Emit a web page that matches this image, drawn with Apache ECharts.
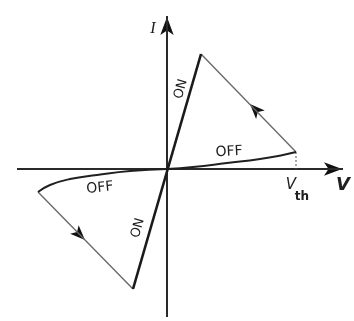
<!DOCTYPE html>
<html>
<head>
<meta charset="utf-8">
<script src="https://cdn.jsdelivr.net/npm/echarts@6/dist/echarts.min.js"></script>
<style>
  html, body { margin: 0; padding: 0; background: #ffffff; }
  #chart { width: 354px; height: 321px; }
</style>
</head>
<body>
<div id="chart"></div>
<script>
// Current-voltage switching characteristic (V and I measured from the origin)
const vAxisLine = [[-150, 0], [176, 0]];
const iAxisLine = [[0, -148], [0, 153]];
const axisTips = [[175, 0], [0, 152]];
const onBranch = [[-34, -120], [34, 115]];
const offUpper = [[0, 0], [26, 2], [60, 6], [93, 10], [116, 14], [129, 17]];
const offLower = [[0, 0], [-37, -2], [-70, -6], [-97, -10], [-117, -16], [-129, -23]];
const returnUpper = [[129, 17], [34, 115]];
const returnLower = [[-129, -23], [-34, -120]];
const vth = 129;
const thresholdDrop = [[vth, 17], [vth, 0]];
const directionMarks = [[83, 65], [-82, -71]];

const ink = '#202020';

const chart = echarts.init(document.getElementById('chart'), null, { renderer: 'canvas' });

function txt(text, x, y, font, rotation) {
  return {
    type: 'text', x: x, y: y, rotation: rotation || 0, silent: true,
    style: {
      text: text, font: font, fill: ink,
      align: 'center', verticalAlign: 'middle',
      textAlign: 'center', textVerticalAlign: 'middle'
    }
  };
}

chart.setOption({
  animation: false,
  backgroundColor: '#ffffff',
  grid: { left: 0, right: 0, top: 0, bottom: 0 },
  xAxis: { type: 'value', min: -167, max: 187, show: false },
  yAxis: { type: 'value', min: -152, max: 169, show: false },
  series: [
    { type: 'line', data: vAxisLine, symbol: 'none', lineStyle: { color: '#2a2a2a', width: 2 } },
    { type: 'line', data: iAxisLine, symbol: 'none', lineStyle: { color: '#2a2a2a', width: 2 } },
    {
      type: 'scatter', symbol: 'arrow', symbolSize: [10, 18],
      itemStyle: { color: '#111111', opacity: 1 },
      data: [
        { value: axisTips[0], symbolRotate: -90 },
        { value: axisTips[1], symbolRotate: 0 }
      ]
    },
    { type: 'line', data: returnUpper, symbol: 'none', lineStyle: { color: '#666666', width: 1.3 } },
    { type: 'line', data: returnLower, symbol: 'none', lineStyle: { color: '#666666', width: 1.3 } },
    { type: 'line', data: thresholdDrop, symbol: 'none', lineStyle: { color: '#555555', width: 1, type: [2, 2] } },
    { type: 'line', data: offUpper, smooth: true, symbol: 'none', lineStyle: { color: ink, width: 2 } },
    { type: 'line', data: offLower, smooth: true, symbol: 'none', lineStyle: { color: ink, width: 2 } },
    { type: 'line', data: onBranch, symbol: 'none', lineStyle: { color: '#1a1a1a', width: 2.6 } },
    {
      type: 'scatter', symbol: 'arrow', symbolSize: [9, 15],
      itemStyle: { color: '#111111', opacity: 1 },
      data: [
        { value: directionMarks[0], symbolRotate: 44 },
        { value: directionMarks[1], symbolRotate: 225 }
      ]
    }
  ],
  graphic: [
    txt('I', 153, 29, 'italic 16px "Liberation Serif"'),
    txt('V', 343, 185, 'italic bold 18px "DejaVu Sans"'),
    txt('V', 291, 185, 'italic 15px "DejaVu Sans"'),
    txt('th', 302, 197, 'bold 12px "DejaVu Sans"'),
    txt('OFF', 229, 152, '14px "DejaVu Sans"', 0.05),
    txt('OFF', 100, 188, '14px "DejaVu Sans"', 0.1),
    txt('ON', 181, 89, '13px "DejaVu Sans"', 1.29),
    txt('ON', 138, 228, '13px "DejaVu Sans"', 1.29)
  ]
});
</script>
</body>
</html>
